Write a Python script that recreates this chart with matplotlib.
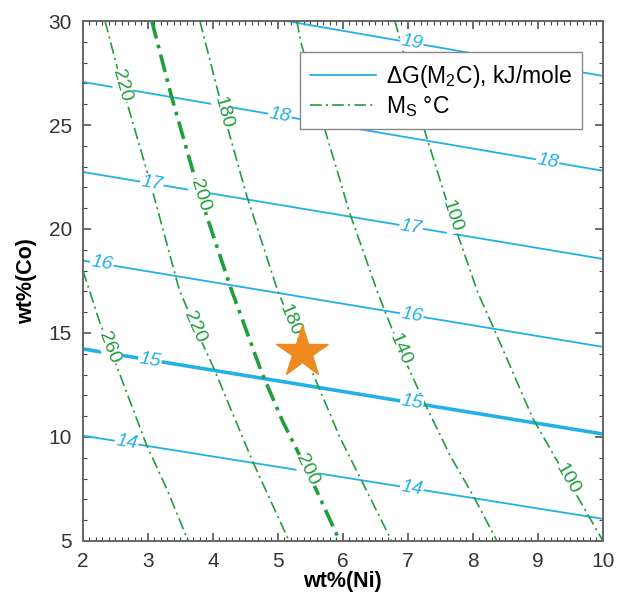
"""Ms and dG(M2C) contours over Ni / Co content."""
import numpy as np
import matplotlib.pyplot as plt
from matplotlib.ticker import MultipleLocator

plt.rcParams['font.family'] = ['Liberation Sans', 'DejaVu Sans']
plt.rcParams['mathtext.fontset'] = 'custom'
plt.rcParams['mathtext.rm'] = 'Liberation Sans'
plt.rcParams['mathtext.default'] = 'regular'

# dG(M2C) contours (straight lines), y at x=2 and x=10
dg_levels = [14, 15, 16, 17, 18, 19]
dg_y_left = [10.06, 14.23, 18.48, 22.74, 27.07, 31.7]
dg_y_right = [6.06, 10.14, 14.33, 18.56, 22.8, 27.36]
dg_label_x = [[2.67, 7.06], [3.03, 7.06], [2.29, 7.06], [3.06, 7.05], [5.03, 9.15], [7.06]]

# Ms contours (degC), traced points
ms_levels = [260, 220, 200, 180, 140, 100]
ms_x = [
    [2.0, 2.26, 2.52, 2.98, 3.29, 3.62],
    [2.34, 2.6, 3.03, 3.48, 3.72, 4.0, 4.6, 5.17],
    [3.06, 3.36, 3.8, 4.27, 4.75, 5.08, 5.45, 5.95],
    [3.8, 4.16, 4.52, 5.0, 5.49, 5.95, 6.75],
    [5.29, 5.36, 5.72, 5.95, 6.1, 6.54, 6.88, 7.23, 7.65, 8.0, 8.37],
    [6.8, 7.26, 7.67, 8.08, 8.31, 8.92, 9.45, 10.0],
]
ms_y = [
    [18.0, 15.5, 13.4, 9.6, 7.5, 5.0],
    [30, 26.9, 22.3, 17.1, 15.3, 13.4, 8.9, 5.0],
    [30, 26.4, 21.6, 17.2, 13.1, 10.7, 8.4, 5.0],
    [30, 25.6, 21.6, 17.0, 13.4, 10.0, 5.0],
    [30, 28.9, 24.8, 22.4, 20.8, 16.9, 14.2, 11.8, 9.1, 7.2, 5.0],
    [30, 24.7, 20.6, 16.9, 15.3, 10.9, 8.0, 5.0],
]
ms_label_y = [[14.3], [26.9, 15.3], [21.6, 8.4], [25.6, 15.6], [14.2], [20.6, 8.0]]

star_x, star_y = 5.37, 14.1

BLUE = '#22b0e8'
GREEN = '#1f9e3c'
ORANGE = '#f08a1e'


def label(ax, x, y, dx, dy, text, color, **kw):
    ang = np.degrees(np.arctan2(dy, dx))
    ax.text(x, y, text, color=color, rotation=ang, transform_rotates_text=True,
            rotation_mode='anchor', ha='center', va='center', zorder=4,
            bbox=dict(boxstyle='square,pad=0.05', fc='white', ec='none'), **kw)


fig = plt.figure(figsize=(6.19, 6.01), dpi=100)
ax = fig.add_axes([0.134, 0.1, 0.84, 0.865])
ax.set_xlim(2, 10)
ax.set_ylim(5, 30)

xe = np.array([2.0, 10.0])
for lev, y0, y1, lxs in zip(dg_levels, dg_y_left, dg_y_right, dg_label_x):
    lw = 2.6 if lev == 15 else 1.3
    ln, = ax.plot(xe, [y0, y1], color=BLUE, lw=lw, zorder=2)
    if lev == 14:
        dg_handle = ln
    for lx in lxs:
        ly = np.interp(lx, xe, [y0, y1])
        label(ax, lx, ly, 8.0, y1 - y0, str(lev), BLUE, fontsize=14,
              fontstyle='italic')

for lev, xs, ys, lys in zip(ms_levels, ms_x, ms_y, ms_label_y):
    thick = lev == 200
    lw = 2.6 if thick else 1.2
    dashes = (5, 1.8, 1, 1.8) if thick else (7, 2.5, 1.3, 2.5)
    ln, = ax.plot(xs, ys, color=GREEN, lw=lw, dashes=dashes, zorder=2)
    if lev == 260:
        ms_handle = ln
    xr, yr = np.array(xs[::-1]), np.array(ys[::-1])
    for ly in lys:
        lx = np.interp(ly, yr, xr)
        xa, xb = np.interp([ly + 0.6, ly - 0.6], yr, xr)
        label(ax, lx, ly, xb - xa, -1.2, str(lev), GREEN, fontsize=14)

ax.plot(star_x, star_y, marker='*', ms=39, color=ORANGE, mec=ORANGE, zorder=5)

leg = ax.legend([dg_handle, ms_handle],
                ['ΔG(M$_2$C), kJ/mole', 'M$_S$ °C'],
                loc='upper right', bbox_to_anchor=(0.96, 0.94), fontsize=16.5,
                frameon=True, fancybox=False, framealpha=1, edgecolor='#888888',
                handlelength=2.9, handletextpad=0.4, labelspacing=0.2,
                borderpad=0.45, borderaxespad=0)
leg.get_frame().set_linewidth(1.0)
leg.set_zorder(6)

ax.xaxis.set_major_locator(MultipleLocator(1))
ax.xaxis.set_minor_locator(MultipleLocator(0.1))
ax.yaxis.set_major_locator(MultipleLocator(5))
ax.yaxis.set_minor_locator(MultipleLocator(1))
ax.tick_params(which='both', direction='in', top=True, right=True,
               colors='#444444', labelcolor='#333333')
ax.tick_params(which='major', length=6, width=1.1, labelsize=15, pad=8)
ax.tick_params(which='minor', length=3, width=0.8)
for sp in ax.spines.values():
    sp.set_color('#666666')
    sp.set_linewidth(1.4)

ax.set_xlabel('wt%(Ni)', fontsize=15.5, fontweight='bold', labelpad=0)
ax.set_ylabel('wt%(Co)', fontsize=15.5, fontweight='bold', labelpad=8)

fig.savefig('out.png', dpi=100)
